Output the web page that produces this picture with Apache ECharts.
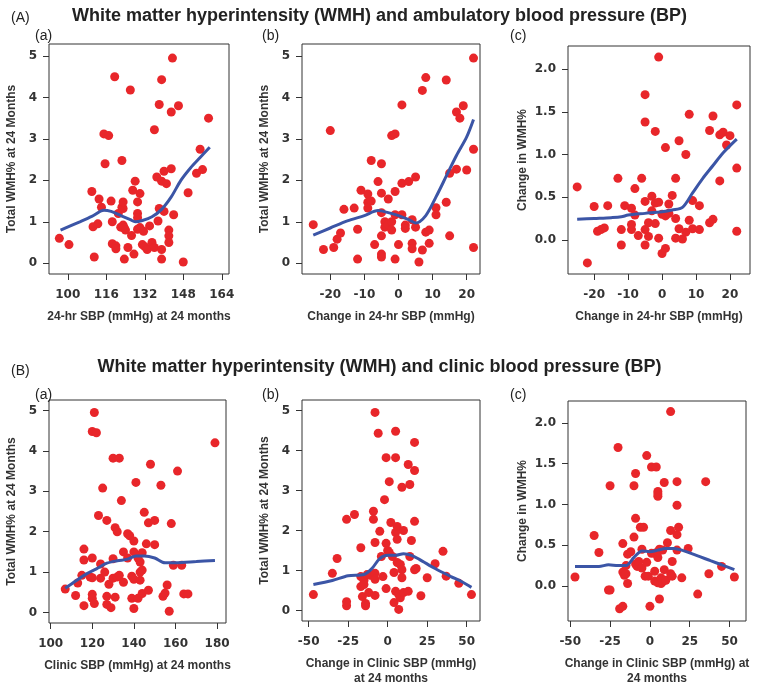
<!DOCTYPE html>
<html>
<head>
<meta charset="utf-8">
<script src="https://cdn.jsdelivr.net/npm/echarts@6/dist/echarts.min.js"></script>
<style>
html,body{margin:0;padding:0;background:#fff;}
#chart{width:759px;height:687px;}
</style>
</head>
<body>
<div id="chart"></div>
<script>
// ---------- DATA ----------
const titleA = "White matter hyperintensity (WMH) and ambulatory blood pressure (BP)";
const titleB = "White matter hyperintensity (WMH) and clinic blood pressure (BP)";

const ticksX_Aa = [100, 116, 132, 148, 164];
const ticksX_Ab = [-20, -10, 0, 10, 20];
const ticksX_Ac = [-20, -10, 0, 10, 20];
const ticksX_Ba = [100, 120, 140, 160, 180];
const ticksX_Bb = [-50, -25, 0, 25, 50];
const ticksX_Bc = [-50, -25, 0, 25, 50];
const ticksY_total = [0, 1, 2, 3, 4, 5];
const ticksY_change = [0.0, 0.5, 1.0, 1.5, 2.0];

const pts_Aa = [
 [96.5,0.6],[100.5,0.45],[110,1.73],[110.5,0.88],[112.5,0.95],[111,0.15],[113,1.55],[114,1.35],
 [115,3.12],[117,3.08],[115.5,2.4],[119.5,4.5],[118,1.5],[118.5,1.0],[118.5,0.47],[120,0.42],
 [120,0.35],[121,1.2],[122,0.87],[122.5,1.35],[123,1.32],[123,1.48],[123,0.92],[123.5,0.85],
 [123.5,0.1],[122.5,2.48],[124,0.8],[125,0.38],[126,4.18],[126.5,0.67],[127,1.76],[127.5,0.22],
 [128,1.98],[129,1.48],[129,1.2],[129,1.1],[129,0.82],[130,1.68],[130,0.86],[131,0.45],
 [131.5,0.77],[132,0.4],[133,0.33],[134,0.9],[135,0.5],[136,0.38],[136,3.22],[137,2.08],
 [137.5,1.02],[138,1.32],[138,3.83],[139,4.43],[139,0.33],[139,0.1],[139,1.98],[140,2.22],
 [140,1.25],[141,1.92],[142,0.8],[142,0.66],[142,0.5],[143,2.28],[143,3.65],[143.5,4.95],
 [144,1.17],[146,3.8],[148,0.03],[150,1.7],[153.5,2.17],[155,2.75],[156,2.26],[158.5,3.5]
];
const line_Aa = [[97,0.8],[105,1.0],[110,1.13],[115,1.28],[118,1.25],[122,1.15],[126,1.05],[128,1.0],
 [131,1.03],[135,1.12],[139,1.3],[143,1.6],[147,2.0],[151,2.3],[155,2.55],[159,2.8]];

const pts_Ab = [
 [-25,0.93],[-22,0.33],[-19,0.38],[-18,0.58],[-17,0.73],[-20,3.2],[-16,1.3],[-13,1.33],[-12,0.82],
 [-12,0.1],[-11,1.76],[-9,1.67],[-9,1.47],[-9,1.33],[-8,1.5],[-8,2.48],[-7,0.45],[-6,1.97],[-5,2.4],
 [-5,1.69],[-5,1.22],[-5,0.66],[-5,0.22],[-5,0.15],[-4,1.0],[-4,0.87],[-3,1.55],[-3,0.93],[-2,1.0],
 [-2,0.8],[-2,3.08],[-1,3.12],[-1,1.73],[-1,1.17],[-1,0.1],[0,0.45],[1,3.82],[1,1.93],[1,1.17],
 [2,0.92],[2,0.84],[3,1.97],[4,1.05],[4,0.48],[4,0.35],[5,2.08],[5,0.87],[6,0.03],[7,0.32],[7,4.17],
 [8,4.48],[8,0.75],[9,0.8],[9,0.48],[11,1.34],[11,1.17],[14,1.47],[14,4.42],[15,2.17],[15,0.66],
 [17,2.27],[17,3.65],[18,3.5],[19,3.8],[20,2.25],[22,2.75],[22,0.38],[22,4.95]
];
const line_Ab = [[-25,0.68],[-20,0.85],[-15,1.02],[-10,1.15],[-6,1.27],[-3,1.22],[0,1.15],[3,1.05],
 [5,0.97],[8,1.15],[11,1.6],[14,2.1],[17,2.6],[20,3.05],[22,3.47]];

const pts_Ac = [
 [-25,0.62],[-22,-0.27],[-20,0.39],[-19,0.1],[-18,0.12],[-17,0.14],[-16,0.4],[-13,0.72],[-12,0.12],
 [-12,-0.06],[-11,0.4],[-9,0.37],[-9,0.18],[-9,0.12],[-8,0.29],[-8,0.6],[-7,0.05],[-6,0.72],[-5,1.7],
 [-5,1.38],[-5,0.45],[-5,0.12],[-5,-0.06],[-4,0.2],[-4,0.04],[-3,0.51],[-3,0.34],[-2,1.27],[-2,0.19],
 [-2,0.43],[-1,0.44],[-1,2.14],[-1,0.02],[0,-0.16],[0,0.3],[1,1.08],[1,-0.1],[1,0.28],[2,0.42],
 [2,0.31],[3,0.52],[4,0.25],[4,0.72],[4,0.02],[5,1.16],[5,0.13],[6,0.01],[7,1.0],[7,0.09],[8,1.47],
 [8,0.23],[9,0.46],[9,0.13],[11,0.4],[11,0.12],[14,1.28],[14,0.2],[15,1.45],[15,0.24],[17,1.23],
 [17,0.69],[18,1.26],[19,1.11],[20,1.22],[22,1.58],[22,0.84],[22,0.1]
];
const line_Ac = [[-25,0.24],[-20,0.25],[-15,0.26],[-12,0.27],[-10,0.29],[-5,0.31],[0,0.33],[3,0.35],
 [6,0.38],[9,0.55],[12,0.72],[15,0.87],[18,1.02],[22,1.18]];

const pts_Ba = [
 [107,0.58],[112,0.42],[113,0.73],[115,0.92],[116,1.57],[116,1.3],[116,0.17],[119,0.88],[120,0.86],
 [120,1.35],[120,0.45],[120,0.35],[120,4.48],[121,0.22],[121,4.95],[122,4.45],[123,2.4],[124,0.85],
 [124,1.2],[125,3.08],[126,1.0],[127,2.28],[127,0.4],[127,0.2],[128,0.7],[129,0.12],[130,3.82],
 [130,1.33],[130,0.85],[131,2.1],[131,0.38],[132,2.0],[132,0.88],[133,3.82],[133,0.92],[134,2.77],
 [135,1.5],[135,0.75],[137,1.95],[137,1.35],[138,1.9],[139,0.35],[139,0.9],[140,1.5],[140,0.82],
 [140,1.77],[140,0.1],[141,3.22],[142,0.35],[142,1.35],[143,1.25],[143,0.8],[143,1.0],[144,1.05],
 [144,0.47],[144,1.48],[145,2.48],[146,1.7],[147,0.55],[147,2.22],[148,3.67],[150,2.28],[150,1.68],
 [153,3.15],[154,0.4],[155,0.48],[156,0.68],[157,0.03],[158,2.2],[159,1.17],[161,3.5],[163,1.17],
 [164,0.46],[166,0.46],[179,4.2]
];
const line_Ba = [[107,0.6],[112,0.78],[117,0.95],[122,1.08],[127,1.22],[132,1.28],[137,1.32],[141,1.4],
 [145,1.4],[150,1.35],[155,1.23],[160,1.23],[170,1.26],[179,1.29]];

const pts_Bb = [
 [-47,0.4],[-35,0.93],[-32,1.3],[-26,0.12],[-26,0.22],[-26,2.28],[-21,2.4],[-17,1.57],[-17,0.85],
 [-17,0.6],[-16,0.35],[-15,0.75],[-15,0.65],[-14,0.18],[-14,0.12],[-13,0.9],[-12,0.45],[-11,0.88],
 [-9,2.48],[-9,2.28],[-8,1.7],[-8,0.93],[-8,0.78],[-8,0.38],[-8,4.95],[-6,4.43],[-5,1.98],[-4,1.35],
 [-3,0.85],[-2,2.77],[-1,1.68],[-1,3.82],[-1,0.55],[0,1.5],[1,3.22],[1,1.45],[2,2.2],[3,1.35],[4,0.2],
 [4,0.95],[5,1.95],[5,4.48],[5,3.82],[5,0.48],[6,2.1],[6,1.78],[6,1.2],[7,0.4],[7,0.03],[8,1.15],
 [8,0.32],[9,3.08],[9,1.02],[9,0.82],[10,0.45],[10,2.0],[13,0.48],[13,3.65],[14,3.15],[14,1.35],
 [15,1.75],[17,4.2],[17,3.5],[17,2.23],[17,1.02],[18,1.05],[21,0.37],[25,0.82],[30,1.17],[35,1.48],
 [37,0.86],[45,0.68],[53,0.4]
];
const line_Bb = [[-47,0.65],[-35,0.75],[-25,0.87],[-15,0.9],[-10,1.05],[-5,1.3],[0,1.38],[5,1.38],
 [10,1.42],[15,1.38],[20,1.28],[30,1.05],[40,0.85],[47,0.72],[53,0.58]];

const pts_Bc = [
 [-47,0.11],[-35,0.62],[-32,0.41],[-25,1.23],[-26,-0.05],[-25,-0.05],[-20,1.7],[-19,-0.28],[-17,0.52],
 [-17,0.17],[-17,-0.25],[-16,0.13],[-15,0.25],[-15,0.15],[-14,0.03],[-14,0.39],[-12,0.42],[-10,0.6],
 [-10,1.23],[-9,0.83],[-9,1.38],[-9,0.27],[-8,0.24],[-7,0.3],[-6,0.72],[-5,0.45],[-5,0.22],[-4,0.72],
 [-3,0.12],[-2,1.6],[-2,0.29],[-1,0.12],[0,-0.25],[1,1.46],[1,0.4],[3,0.4],[3,0.18],[3,0.06],[4,1.46],
 [5,0.04],[5,0.35],[5,1.1],[5,1.16],[5,1.13],[5,0.42],[6,0.45],[6,-0.16],[7,0.1],[7,0.03],[8,0.05],
 [8,0.44],[9,1.27],[9,0.2],[10,0.07],[11,0.53],[13,2.14],[13,0.15],[13,0.68],[14,0.12],[14,0.3],
 [17,1.28],[17,0.99],[17,0.63],[17,0.44],[18,0.72],[20,0.1],[24,0.46],[30,-0.1],[35,1.28],[37,0.15],
 [45,0.24],[53,0.11]
];
const line_Bc = [[-47,0.24],[-40,0.24],[-32,0.24],[-26,0.26],[-20,0.25],[-15,0.25],[-10,0.35],[-5,0.43],
 [0,0.42],[5,0.44],[10,0.46],[15,0.46],[20,0.44],[30,0.37],[38,0.31],[45,0.26],[53,0.2]];

// ---------- LAYOUT ----------
const RED = '#e8262a', BLUE = '#3b55a6', INK = '#333';
const panels = [
 {grid:{left:49,top:44,width:180,height:230}, xr:[92.2,167.0], yr:[-0.26,5.29], xt:ticksX_Aa, yt:ticksY_total,
  pts:pts_Aa, line:line_Aa, xn:'24-hr SBP (mmHg) at 24 months', yn:'Total WMH% at 24 Months', dec:0},
 {grid:{left:302,top:44,width:178,height:230}, xr:[-28.3,23.9], yr:[-0.26,5.29], xt:ticksX_Ab, yt:ticksY_total,
  pts:pts_Ab, line:line_Ab, xn:'Change in 24-hr SBP (mmHg)', yn:'Total WMH% at 24 Months', dec:0},
 {grid:{left:568,top:46,width:182,height:228}, xr:[-27.7,25.9], yr:[-0.40,2.27], xt:ticksX_Ac, yt:ticksY_change,
  pts:pts_Ac, line:line_Ac, xn:'Change in 24-hr SBP (mmHg)', yn:'Change in WMH%', dec:1},
 {grid:{left:49,top:400,width:177,height:223}, xr:[99.2,184.3], yr:[-0.26,5.26], xt:ticksX_Ba, yt:ticksY_total,
  pts:pts_Ba, line:line_Ba, xn:'Clinic SBP (mmHg) at 24 months', yn:'Total WMH% at 24 Months', dec:0},
 {grid:{left:302,top:400,width:178,height:223}, xr:[-54.2,58.4], yr:[-0.26,5.26], xt:ticksX_Bb, yt:ticksY_total,
  pts:pts_Bb, line:line_Bb, xn:'Change in Clinic SBP (mmHg)\nat 24 months', yn:'Total WMH% at 24 Months', dec:0},
 {grid:{left:568,top:401,width:178,height:222}, xr:[-51.4,60.3], yr:[-0.43,2.27], xt:ticksX_Bc, yt:ticksY_change,
  pts:pts_Bc, line:line_Bc, xn:'Change in Clinic SBP (mmHg) at\n24 months', yn:'Change in WMH%', dec:1}
];

const tickFont = {fontFamily:'DejaVu Sans', fontWeight:'bold', fontSize:12, color:INK};
const nameFont = {fontFamily:'Liberation Sans', fontWeight:'bold', fontSize:12, color:INK, lineHeight:15};

const grids=[], xAxes=[], yAxes=[], series=[];
panels.forEach((p,i)=>{
  grids.push(Object.assign({show:true, borderColor:INK, borderWidth:1, backgroundColor:'transparent'}, p.grid));
  xAxes.push({type:'value', gridIndex:i, min:p.xr[0], max:p.xr[1],
    axisLine:{show:false, onZero:false},
    axisTick:{show:true, inside:false, length:6, customValues:p.xt, lineStyle:{color:INK}},
    axisLabel:Object.assign({show:true, margin:15, customValues:p.xt}, tickFont),
    splitLine:{show:false},
    name:p.xn, nameLocation:'middle', nameGap:35, nameTextStyle:nameFont});
  yAxes.push({type:'value', gridIndex:i, min:p.yr[0], max:p.yr[1],
    axisLine:{show:false, onZero:false},
    axisTick:{show:true, inside:false, length:6, customValues:p.yt, lineStyle:{color:INK}},
    axisLabel:Object.assign({show:true, margin:12, customValues:p.yt,
      formatter:(v)=>Number(v).toFixed(p.dec)}, tickFont),
    splitLine:{show:false},
    name:p.yn, nameLocation:'middle', nameGap:p.dec?38:30, nameTextStyle:nameFont});
  series.push({type:'scatter', xAxisIndex:i, yAxisIndex:i, data:p.pts, symbolSize:9,
    itemStyle:{color:RED, opacity:1}, z:2, animation:false});
  series.push({type:'line', xAxisIndex:i, yAxisIndex:i, data:p.line, showSymbol:false, symbol:'none',
    smooth:0.3, lineStyle:{color:BLUE, width:3}, z:3, animation:false});
});

const lab = (text, left, top, size, bold) => ({text, left, top,
  textStyle:{fontFamily:'Liberation Sans', fontSize:size, fontWeight:bold?'bold':'normal', color:'#222'}});

const option = {
  animation:false,
  title:[
    lab(titleA,'center',2,18,true),
    lab(titleB,'center',353,18,true),
    lab('(A)',6,6,14,false), lab('(B)',6,359,14,false),
    lab('(a)',30,24,14,false), lab('(b)',257,24,14,false), lab('(c)',505,24,14,false),
    lab('(a)',30,383,14,false), lab('(b)',257,383,14,false), lab('(c)',505,383,14,false)
  ],
  grid:grids, xAxis:xAxes, yAxis:yAxes, series:series
};
const chart = echarts.init(document.getElementById('chart'), null, {renderer:'canvas'});
chart.setOption(option);
</script>
</body>
</html>
